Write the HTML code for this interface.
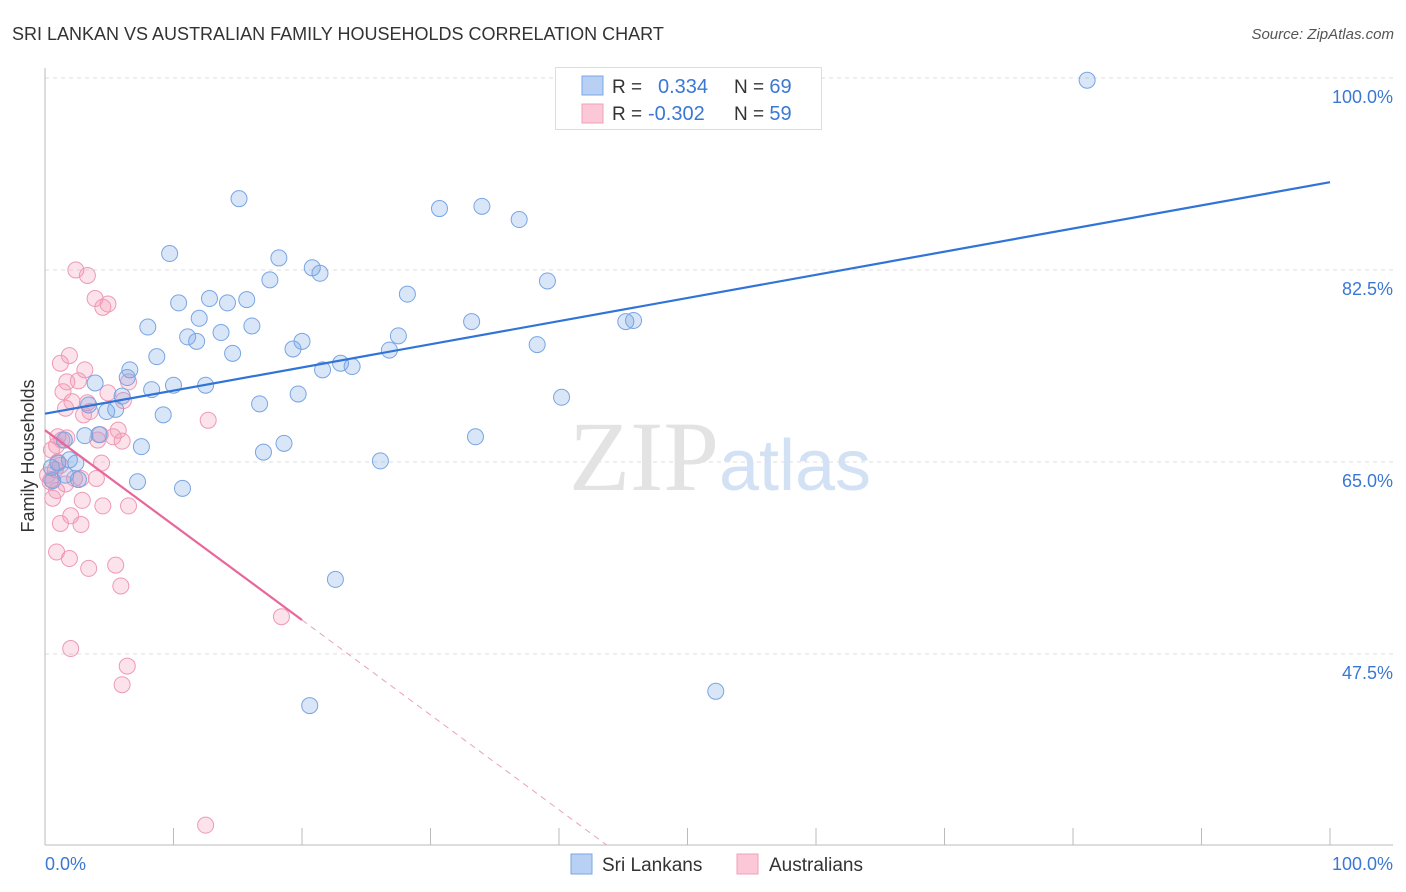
<!DOCTYPE html>
<html><head><meta charset="utf-8"><style>
body{margin:0;background:#fff;font-family:"Liberation Sans",sans-serif;}
svg{display:block}
</style></head><body>
<svg id="chart" width="1406" height="892">
<text x="12" y="40" font-size="18" fill="#333">SRI LANKAN VS AUSTRALIAN FAMILY HOUSEHOLDS CORRELATION CHART</text>
<text x="1394" y="39" font-size="15" fill="#555" text-anchor="end" font-style="italic">Source: ZipAtlas.com</text>
<g id="grid"></g>
<text x="720" y="490" font-size="100" fill="#e3e3e3" text-anchor="middle" font-family="Liberation Serif,serif">ZIP<tspan fill="#d3e1f5" font-family="Liberation Sans,sans-serif" font-size="72">atlas</tspan></text>
<line x1="45" y1="68" x2="45" y2="845" stroke="#bbb"/>
<line x1="45" y1="845" x2="1393" y2="845" stroke="#bbb"/>
<g id="xticks"></g>
<g id="ylabels"></g>
<text x="45" y="870" font-size="18" fill="#3a78d4">0.0%</text>
<text x="1393" y="870" font-size="18" fill="#3a78d4" text-anchor="end">100.0%</text>
<text transform="translate(34,456) rotate(-90)" font-size="18" fill="#333" text-anchor="middle">Family Households</text>
<g id="pink"></g>
<g id="blue"></g>
<g id="trends"></g>
<g>
<rect x="555.5" y="67.5" width="266" height="62" fill="#fff" stroke="#ddd"/>
<rect x="582" y="76" width="21" height="19" fill="#b7d0f3" stroke="#7aa7e6"/>
<rect x="582" y="104" width="21" height="19" fill="#fcc8d7" stroke="#f0a0b8"/>
<text x="612" y="93" font-size="19" fill="#333">R = <tspan x="658" fill="#3a78d4" font-size="20">0.334</tspan><tspan x="734" fill="#333">N = </tspan><tspan fill="#3a78d4" font-size="20">69</tspan></text>
<text x="612" y="120" font-size="19" fill="#333">R = <tspan x="648" fill="#3a78d4" font-size="20">-0.302</tspan><tspan x="734" fill="#333">N = </tspan><tspan fill="#3a78d4" font-size="20">59</tspan></text>
</g>
<g>
<rect x="571" y="854" width="21" height="20" fill="#b7d0f3" stroke="#7aa7e6"/>
<text x="602" y="871" font-size="19" fill="#333">Sri Lankans</text>
<rect x="737" y="854" width="21" height="20" fill="#fcc8d7" stroke="#f0a0b8"/>
<text x="769" y="871" font-size="19" fill="#333">Australians</text>
</g>
</svg>
<script>
const yTicks=[100,82.5,65,47.5];
const yTickLabels=["100.0%","82.5%","65.0%","47.5%"];
const blueX=[81.1,15.1,30.7,34.0,36.9,9.7,18.2,20.8,21.4,17.5,39.1,28.2,12.8,10.4,14.2,15.7,12.0,8.0,16.1,33.2,45.2,45.8,11.1,11.8,13.7,20.0,27.5,19.3,26.8,14.6,38.3,8.7,23.0,23.9,21.6,6.6,6.4,3.9,10.0,12.5,8.3,19.7,40.2,16.7,6.0,3.4,5.5,4.8,9.2,33.5,18.6,17.0,7.5,4.2,3.1,26.1,1.9,2.4,1.0,0.5,1.6,2.6,0.6,7.2,10.7,22.6,52.2,20.6,1.5];
const blueY=[99.8,89.0,88.1,88.3,87.1,84.0,83.6,82.7,82.2,81.6,81.5,80.3,79.9,79.5,79.5,79.8,78.1,77.3,77.4,77.8,77.8,77.9,76.4,76.0,76.8,76.0,76.5,75.3,75.2,74.9,75.7,74.6,74.0,73.7,73.4,73.4,72.7,72.2,72.0,72.0,71.6,71.2,70.9,70.3,71.0,70.2,69.8,69.6,69.3,67.3,66.7,65.9,66.4,67.5,67.4,65.1,65.2,64.9,64.9,64.5,63.8,63.4,63.3,63.2,62.6,54.3,44.1,42.8,67.0];
const pinkX=[2.4,3.3,3.9,4.9,4.5,1.9,1.2,3.1,1.7,2.6,1.4,4.9,6.5,6.1,1.6,3.3,2.1,3.5,12.7,1.0,1.3,4.3,5.3,6.0,0.5,1.7,4.4,1.2,0.8,2.8,4.0,0.4,0.9,0.6,2.9,4.5,6.5,2.0,1.2,2.8,0.9,1.9,3.4,5.5,5.9,18.4,2.0,6.4,6.0,12.5,0.5,1.6,2.3,1.0,0.2,4.1,5.7,3.0,0.9];
const pinkY=[82.5,82.0,79.9,79.4,79.1,74.7,74.0,73.4,72.3,72.4,71.4,71.3,72.3,70.6,69.9,70.4,70.5,69.6,68.8,67.3,67.0,67.5,67.3,66.9,66.1,67.2,64.9,64.7,64.3,63.5,63.5,63.2,62.4,61.7,61.5,61.0,61.0,60.1,59.4,59.3,56.8,56.2,55.3,55.6,53.7,50.9,48.0,46.4,44.7,31.9,63.4,63.0,63.5,65.0,63.8,67.0,67.9,69.3,66.5];
const blueTrend=[69.4,90.5]; // value at x=0 and x=100
const pinkTrend=[67.9,-0.865]; // intercept, slope
const NS="http://www.w3.org/2000/svg";
const sx=v=>45+v*12.85;
const sy=v=>78+(100-v)*192/17.5;
function mk(tag,attrs,parent){const e=document.createElementNS(NS,tag);for(const k in attrs)e.setAttribute(k,attrs[k]);document.getElementById(parent).appendChild(e);return e;}
let g=mk('line',{x1:45,x2:1393,y1:sy(100),y2:sy(100),stroke:'#ddd','stroke-dasharray':'4,4'},'grid');


yTicks.forEach((t,i)=>{
  if(i>0){const l=mk('line',{x1:45,x2:1393,y1:sy(t),y2:sy(t),stroke:'#ddd','stroke-dasharray':'4,4'},'grid');
  
  }
  const tx=mk('text',{x:1393,y:sy(t)+25,'font-size':18,fill:'#3a78d4','text-anchor':'end'},'ylabels');
  tx.textContent=yTickLabels[i];
  
  
});
for(let i=0;i<=10;i++){const l=mk('line',{x1:sx(i*10),x2:sx(i*10),y1:828,y2:845,stroke:'#bbb'},'xticks');

}
pinkX.forEach((x,i)=>{const c=mk('circle',{cx:sx(x),cy:sy(pinkY[i]),r:8,fill:'rgba(244,150,180,0.28)',stroke:'#ee9ab5','stroke-width':1},'pink');

});
blueX.forEach((x,i)=>{const c=mk('circle',{cx:sx(x),cy:sy(blueY[i]),r:8,fill:'rgba(120,165,230,0.28)',stroke:'#78a5e3','stroke-width':1},'blue');

});
let b=mk('line',{x1:sx(0),y1:sy(blueTrend[0]),x2:sx(100),y2:sy(blueTrend[1]),stroke:'#2f74d6','stroke-width':2.2},'trends');


const pe=20,xEnd=(30.1-pinkTrend[0])/pinkTrend[1];
let p=mk('line',{x1:sx(0),y1:sy(pinkTrend[0]),x2:sx(pe),y2:sy(pinkTrend[0]+pinkTrend[1]*pe),stroke:'#e8679a','stroke-width':2.2},'trends');


let pd=mk('line',{x1:sx(pe),y1:sy(pinkTrend[0]+pinkTrend[1]*pe),x2:sx(xEnd),y2:sy(pinkTrend[0]+pinkTrend[1]*xEnd),stroke:'#eaa0bc','stroke-width':1,'stroke-dasharray':'6,5'},'trends');


</script>
</body></html>
